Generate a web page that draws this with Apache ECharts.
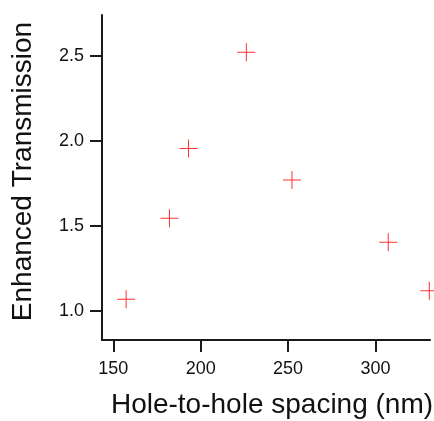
<!DOCTYPE html>
<html>
<head>
<meta charset="utf-8">
<script src="https://cdn.jsdelivr.net/npm/echarts@6/dist/echarts.min.js"></script>
<style>
	html, body { margin: 0; padding: 0; background: #fff; }
	#chartmain { width: 434px; height: 421px; }
</style>
</head>
<body>
<div id="chartmain"></div>
<script>
// hole-to-hole spacing (nm) and enhanced transmission
var spacing = [157.3, 182.1, 193.0, 226.1, 252.2, 307.3, 330.8];
var transmission = [1.07, 1.547, 1.957, 2.522, 1.771, 1.406, 1.121];
var xTicks = [150, 200, 250, 300];
var yTicks = [1.0, 1.5, 2.0, 2.5];

var points = [];
for (var i = 0; i < spacing.length; i++) {
	points.push([spacing[i], transmission[i]]);
}

var font = 'Liberation Sans, Arial, Helvetica, sans-serif';
var axisColor = '#1a1a1a';

var option = {
	animation: false,
	backgroundColor: '#fff',
	grid: {
		left: 102,
		top: 15,
		right: 4,
		bottom: 81,
		containLabel: false,
		outerBoundsMode: 'none'
	},
	xAxis: {
		type: 'value',
		min: 143.5,
		max: 331.2,
		name: 'Hole-to-hole spacing (nm)',
		nameLocation: 'middle',
		nameGap: 51,
		nameMoveOverlap: false,
		nameTextStyle: { fontFamily: font, fontSize: 28, color: '#111', padding: [0, 0, 0, 12] },
		axisLine: { show: true, lineStyle: { color: axisColor, width: 2 } },
		axisTick: { show: true, length: 12, customValues: xTicks, lineStyle: { color: axisColor, width: 2 } },
		axisLabel: { customValues: xTicks, margin: 20, fontFamily: font, fontSize: 18, color: '#111' },
		splitLine: { show: false }
	},
	yAxis: {
		type: 'value',
		min: 0.831,
		max: 2.741,
		name: 'Enhanced Transmission',
		nameLocation: 'middle',
		nameGap: 65,
		nameMoveOverlap: false,
		nameTextStyle: { fontFamily: font, fontSize: 28, color: '#111', padding: [0, 0, 0, 12] },
		axisLine: { show: true, lineStyle: { color: axisColor, width: 2 } },
		axisTick: { show: true, length: 12, customValues: yTicks, lineStyle: { color: axisColor, width: 2 } },
		axisLabel: {
			customValues: yTicks,
			margin: 18,
			fontFamily: font,
			fontSize: 18,
			color: '#111',
			formatter: function (v) { return v.toFixed(1); }
		},
		splitLine: { show: false }
	},
	series: [{
		type: 'scatter',
		data: points,
		clip: false,
		symbol: 'path://M0,8.5H18V9.5H0Z M8.5,0H9.5V18H8.5Z',
		symbolSize: 18,
		itemStyle: { color: '#ff3333', opacity: 1 }
	}]
};

var myChart = echarts.init(document.getElementById('chartmain'));
myChart.setOption(option);
</script>
</body>
</html>
